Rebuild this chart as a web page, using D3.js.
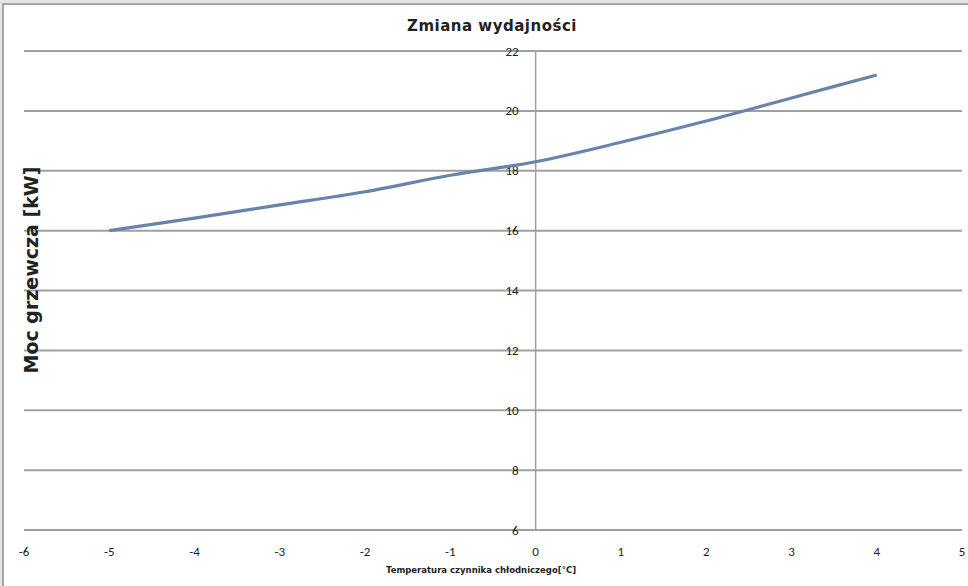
<!DOCTYPE html>
<html>
<head>
<meta charset="utf-8">
<script src="https://cdn.jsdelivr.net/npm/d3@7"></script>
<style>
  html, body { margin: 0; padding: 0; background: #e4e4e4; }
  svg { display: block; }
</style>
</head>
<body>
<svg id="chart" width="968" height="586"></svg>
<script>
// Data
const temps = [-5, -4, -3, -2, -1, 0, 1, 2, 3, 4];
const power = [16.0, 16.42, 16.86, 17.3, 17.85, 18.3, 18.95, 19.66, 20.43, 21.2];
const xTicks = [-6, -5, -4, -3, -2, -1, 0, 1, 2, 3, 4, 5];
const yTicks = [6, 8, 10, 12, 14, 16, 18, 20, 22];

const title = 'Zmiana wydajności';
const xTitle = 'Temperatura  czynnika chłodniczego[°C]';
const yTitle = 'Moc grzewcza [kW]';

const svg = d3.select('#chart');
const width = 968, height = 586;

// chart frame
svg.append('rect')
    .attr('x', 3).attr('y', 4)
    .attr('width', width + 10).attr('height', height + 10)
    .attr('fill', '#fff')
    .attr('stroke', '#a6a6a6')
    .attr('stroke-width', 2);

const x = d3.scaleLinear().domain([-6, 5]).range([24, 962]);
const y = d3.scaleLinear().domain([6, 22]).range([530, 51]);

// horizontal gridlines
svg.append('g')
    .selectAll('line')
    .data(yTicks)
    .enter().append('line')
    .attr('x1', x(-6)).attr('x2', x(5))
    .attr('y1', d => y(d)).attr('y2', d => y(d))
    .attr('stroke', '#a0a0a0')
    .attr('stroke-width', 2);

// vertical axis at x = 0
svg.append('line')
    .attr('x1', x(0)).attr('x2', x(0))
    .attr('y1', y(22)).attr('y2', y(6))
    .attr('stroke', '#a0a0a0')
    .attr('stroke-width', 1.5);

// y tick labels
svg.append('g')
    .selectAll('text')
    .data(yTicks)
    .enter().append('text')
    .attr('x', x(0) - 17)
    .attr('y', d => y(d) + 4.5)
    .attr('text-anchor', 'end')
    .style('font-family', 'Carlito, "Liberation Sans", sans-serif')
    .style('font-size', '13px')
    .style('fill', '#222')
    .text(d => d);

// x tick labels
svg.append('g')
    .selectAll('text')
    .data(xTicks)
    .enter().append('text')
    .attr('x', d => x(d))
    .attr('y', 556)
    .attr('text-anchor', 'middle')
    .style('font-family', 'Carlito, "Liberation Sans", sans-serif')
    .style('font-size', '13px')
    .style('fill', '#222')
    .text(d => d);

// data line
const line = d3.line()
    .x((d, i) => x(temps[i]))
    .y(d => y(d))
    .curve(d3.curveMonotoneX);

svg.append('path')
    .datum(power)
    .attr('d', line)
    .attr('fill', 'none')
    .attr('stroke', '#6784ad')
    .attr('stroke-width', 3.2)
    .attr('stroke-linecap', 'butt');

// titles
svg.append('text')
    .attr('x', 492).attr('y', 31)
    .attr('text-anchor', 'middle')
    .style('font-family', '"DejaVu Sans", sans-serif')
    .style('font-weight', 'bold')
    .style('font-size', '15px')
    .style('letter-spacing', '0.5px')
    .style('fill', '#222')
    .text(title);

svg.append('text')
    .attr('x', 481).attr('y', 573)
    .attr('text-anchor', 'middle')
    .style('font-family', '"DejaVu Sans", sans-serif')
    .style('font-weight', 'bold')
    .style('font-size', '8.5px')
    .style('fill', '#222')
    .text(xTitle);

svg.append('text')
    .attr('transform', 'translate(38,270) rotate(-90)')
    .attr('text-anchor', 'middle')
    .style('font-family', '"DejaVu Sans", sans-serif')
    .style('font-weight', 'bold')
    .style('font-size', '19px')
    .style('fill', '#222')
    .text(yTitle);
</script>
</body>
</html>
